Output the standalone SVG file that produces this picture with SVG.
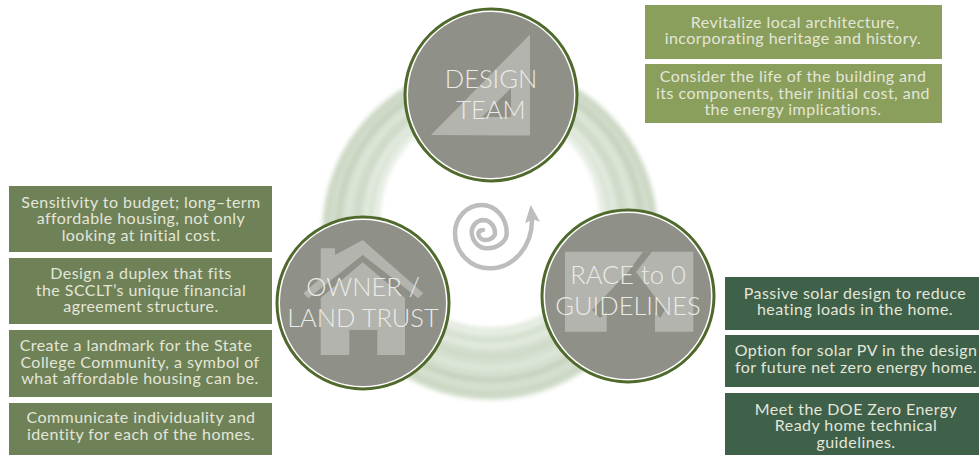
<svg xmlns="http://www.w3.org/2000/svg" width="979" height="455" viewBox="0 0 979 455">
<defs><filter id="b" x="-5%" y="-5%" width="110%" height="110%"><feGaussianBlur stdDeviation="2.2"/></filter></defs>
<style>
text{font-family:"Lato","Open Sans",sans-serif;text-anchor:middle;fill:#e3e6d9}
.t{font-size:16px;letter-spacing:.45px}
.c{font-size:25.5px;fill:#eaebe6;font-weight:300}
.o{fill:#8f9088;stroke:#fff;stroke-width:2}
.r{fill:none;stroke:#4f6a2c;stroke-width:3}
.i{fill:#b3b4ae}
.h{fill:#8f9088}
.l{fill:#6f8157}.d{fill:#3f6049}.a{fill:#8b9f5c}
</style>
<rect width="979" height="455" fill="#fff"/>
<g id="ring" fill="none" filter="url(#b)">
<path fill="#d6e0d0" fill-rule="evenodd" d="M322 232a168 168 0 1 0 336 0a168 168 0 1 0-336 0ZM380 218a110 110 0 1 0 220 0a110 110 0 1 0-220 0Z"/>
<circle cx="490" cy="231" r="163" stroke="#ccd8c4" stroke-width="7"/>
<circle cx="490" cy="228" r="152" stroke="#c6d3be" stroke-width="6"/>
<circle cx="490" cy="226" r="142" stroke="#dde6d8" stroke-width="5"/>
<circle cx="490" cy="224" r="133" stroke="#cfdac8" stroke-width="6"/>
<circle cx="490" cy="222" r="124" stroke="#e4ebe0" stroke-width="5"/>
<circle cx="490" cy="219" r="114" stroke="#e8eee5" stroke-width="6"/>
</g>
<g id="spiral">
<path fill="none" stroke="#bdbdbd" stroke-width="4.5" stroke-linecap="round" d="M483 230A5 4 0 0 0 478.3 233.3A7 7 0 0 0 485 240A10 7 0 0 0 495 233.3A12 13 0 0 0 483.3 220A12 12 0 0 0 471.7 231.7A15 17 0 0 0 486.7 248.3A20 15 0 0 0 506.7 233.3A25 28 0 0 0 481.7 205A27 28 0 0 0 455 233.3A35 35 0 0 0 490 268.3A42 48 0 0 0 532 220"/>
<path fill="#bdbdbd" d="M530.7 205L525 223.3L532.7 219.3L540 221.7Z"/>
</g>
<g id="node-design"><circle class="o" cx="491" cy="95" r="84"/><circle class="r" cx="491" cy="95" r="86"/>
<path class="i" d="M530 34.5V135.5L431 135Z"/><path class="h" d="M511 88V117H482Z"/>
<text class="c" x="491" y="88">DESIGN</text><text class="c" x="491" y="119">TEAM</text></g>
<g id="node-owner"><circle class="o" cx="363" cy="303" r="84"/><circle class="r" cx="363" cy="303" r="86"/>
<path class="i" d="M320.7 248.3H335V255L362.7 240L423.3 293.3L418.3 298.3L362.7 255L308.3 298.3L303.3 293.3L320.7 278Z"/><path class="i" d="M320.7 298L362.7 262.3L405 298V355H377.3V330H349.3V355H320.7Z"/>
<text class="c" x="363" y="296">OWNER /</text><text class="c" x="363" y="327">LAND TRUST</text></g>
<g id="node-race"><circle class="o" cx="628" cy="296" r="84"/><circle class="r" cx="628" cy="296" r="86"/>
<path class="i" d="M565 251.7H693.3V331.7H565Z"/><path class="h" d="M643 251.7H652L636 272L665 310L660 318L655 312V332H606.7V312L600 318L592 310L628 272Z"/>
<text class="c" x="628" y="284">RACE to 0</text><text class="c" x="628" y="315">GUIDELINES</text></g>
<g id="box-1"><rect class="l" x="9" y="186" width="263" height="66"/><text class="t" x="141" y="208">Sensitivity to budget; long–term</text><text class="t" x="141" y="224">affordable housing, not only</text><text class="t" x="141" y="241">looking at initial cost.</text></g>
<g id="box-2"><rect class="l" x="9" y="258" width="263" height="66"/><text class="t" x="141" y="279">Design a duplex that fits</text><text class="t" x="141" y="296">the SCCLT’s unique financial</text><text class="t" x="141" y="312">agreement structure.</text></g>
<g id="box-3"><rect class="l" x="9" y="330" width="263" height="67"/><text class="t" x="136" y="351">Create a landmark for the State</text><text class="t" x="140" y="368">College Community, a symbol of</text><text class="t" x="140" y="384">what affordable housing can be.</text></g>
<g id="box-4"><rect class="l" x="9" y="403" width="263" height="52"/><text class="t" x="141" y="423">Communicate individuality and</text><text class="t" x="141" y="440">identity for each of the homes.</text></g>
<g id="box-5"><rect class="a" x="645" y="5" width="297" height="54"/><text class="t" x="795" y="28">Revitalize local architecture,</text><text class="t" x="793" y="44">incorporating heritage and history.</text></g>
<g id="box-6"><rect class="a" x="645" y="64" width="297" height="59"/><text class="t" x="793" y="82">Consider the life of the building and</text><text class="t" x="793" y="99">its components, their initial cost, and</text><text class="t" x="793" y="115">the energy implications.</text></g>
<g id="box-7"><rect class="d" x="725" y="277" width="254" height="53"/><text class="t" x="855" y="299">Passive solar design to reduce</text><text class="t" x="855" y="315">heating loads in the home.</text></g>
<g id="box-8"><rect class="d" x="725" y="335" width="254" height="52"/><text class="t" x="856" y="356">Option for solar PV in the design</text><text class="t" x="856" y="373">for future net zero energy home.</text></g>
<g id="box-9"><rect class="d" x="725" y="393" width="254" height="62"/><text class="t" x="856" y="415">Meet the DOE Zero Energy</text><text class="t" x="856" y="431">Ready home technical</text><text class="t" x="856" y="448">guidelines.</text></g>
</svg>
